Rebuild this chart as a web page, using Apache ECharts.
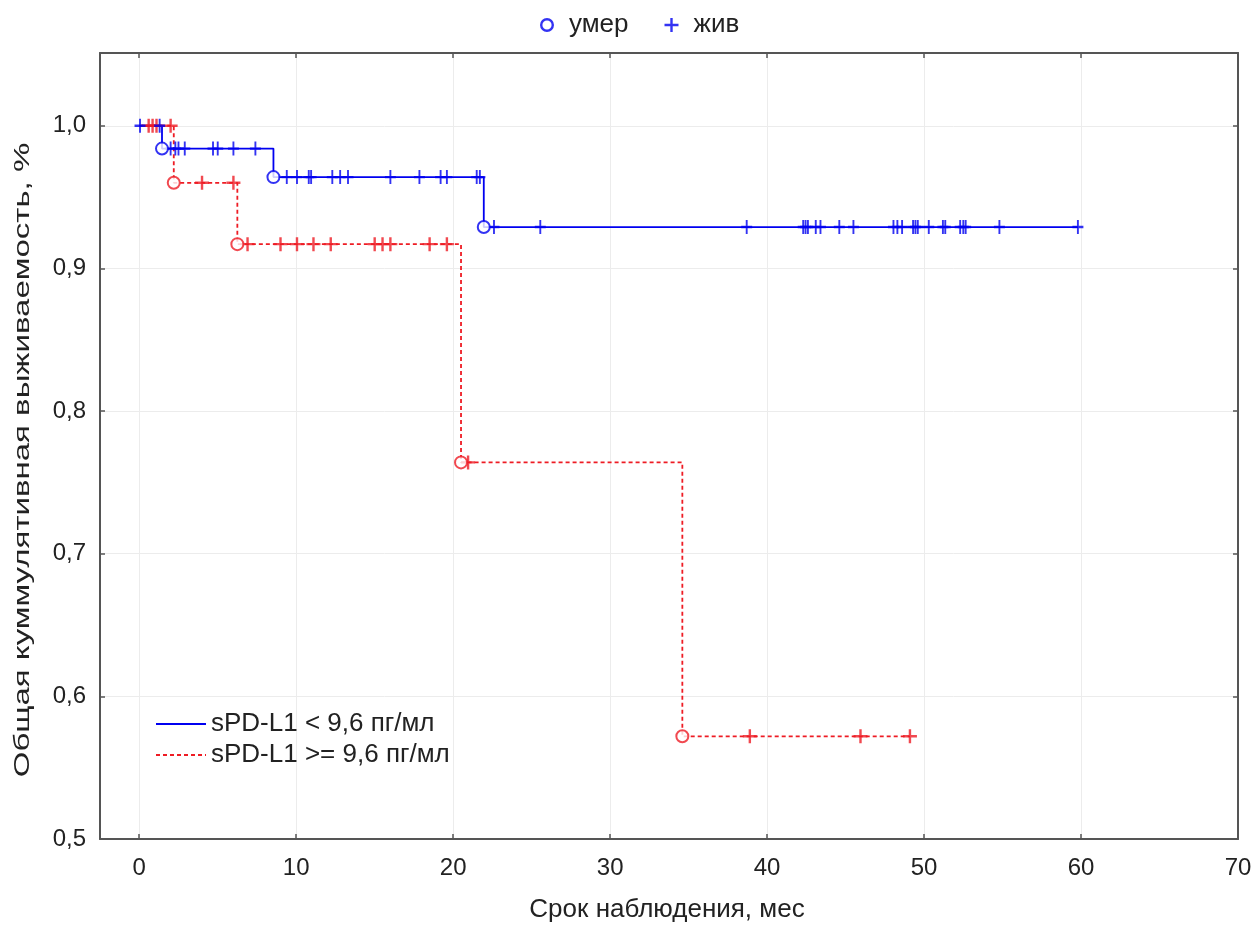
<!DOCTYPE html>
<html>
<head>
<meta charset="utf-8">
<title>Kaplan–Meier: sPD-L1</title>
<script src="https://cdn.jsdelivr.net/npm/echarts@6/dist/echarts.min.js"></script>
<style>
  html, body { margin: 0; padding: 0; background: #fff; }
  #chart { width: 1255px; height: 925px; }
</style>
</head>
<body>
<div id="chart"></div>
<script>
// Kaplan–Meier steps: event times (months) and survival after each event
const lowName = 'sPD-L1 < 9,6 пг/мл';
const highName = 'sPD-L1 >= 9,6 пг/мл';

const lowStepTimes = [0, 1.45, 8.55, 21.95];
const lowStepSurv  = [1.0, 0.984, 0.964, 0.929];
const lowEnd = 59.8;

const highStepTimes = [0, 2.2, 6.25, 20.5, 34.6];
const highStepSurv  = [1.0, 0.960, 0.917, 0.764, 0.572];
const highEnd = 49.1;

// censored observations (alive), months
const lowCensored = [
  0.05, 1.3,
  2.0, 2.3, 2.5, 2.9, 4.7, 5.0, 6.0, 7.4,
  9.4, 10.05, 10.8, 10.95, 12.3, 12.8, 13.3, 16.0, 17.85, 19.2, 19.6, 21.5, 21.7,
  22.6, 25.55, 38.7, 42.3, 42.45, 42.6, 43.1, 43.4, 44.6, 45.5, 48.05, 48.3, 48.6,
  49.3, 49.45, 49.6, 50.3, 51.2, 51.35, 52.3, 52.5, 52.65, 54.8, 59.8
];
const highCensored = [
  0.6, 0.85, 1.1, 2.0,
  4.0, 6.0,
  6.9, 9.0, 10.05, 11.1, 12.2, 15.0, 15.5, 16.0, 18.5, 19.6,
  20.95,
  38.9, 45.95, 49.1
];

const xMin = -2.5, xMax = 70;
const yMin = 0.5, yMax = 1.051;

const BLUE = '#0000f0';
const RED = '#ee1c24';
const FRAME = '#555555';
const TEXT = '#222222';
const FONT = '"Liberation Sans", Arial, sans-serif';

function stepLine(times, surv, end) {
  const pts = times.map((t, i) => [t, surv[i]]);
  pts.push([end, surv[surv.length - 1]]);
  return pts;
}
function levelAt(times, surv, t) {
  let s = surv[0];
  for (let i = 0; i < times.length; i++) if (times[i] <= t) s = surv[i];
  return s;
}
const deaths = (times, surv) => times.slice(1).map((t, i) => [t, surv[i + 1]]);
const censoredPts = (list, times, surv) => list.map(t => [t, levelAt(times, surv, t)]);

const plusPath = 'path://M-1.2,-7H1.2V-1.2H7V1.2H1.2V7H-1.2V1.2H-7V-1.2H-1.2Z';
const ringPath = 'path://M0,-7A7,7 0 1,1 0,7A7,7 0 1,1 0,-7ZM0,-4.6A4.6,4.6 0 1,0 0,4.6A4.6,4.6 0 1,0 0,-4.6Z';

const chart = echarts.init(document.getElementById('chart'), null, { renderer: 'canvas' });

const axisCommon = {
  axisLine: { show: true, onZero: false, lineStyle: { color: FRAME, width: 2 } },
  axisTick: { show: true, inside: true, length: 5, lineStyle: { color: FRAME, width: 1.5 } },
  splitLine: { show: false }
};

chart.setOption({
  animation: false,
  backgroundColor: '#ffffff',
  grid: { left: 100, right: 17, top: 53, bottom: 86, containLabel: false },
  legend: [
    {
      data: [
        { name: 'умер', icon: ringPath, itemStyle: { color: BLUE, borderWidth: 0 } },
        { name: 'жив', icon: plusPath, itemStyle: { color: BLUE, borderWidth: 0 } }
      ],
      top: 7, left: 535,
      itemWidth: 14, itemHeight: 14, itemGap: 36,
      textStyle: { fontFamily: FONT, fontSize: 26, color: TEXT, padding: [0, 0, 0, 10] }
    },
    {
      data: [lowName, highName],
      orient: 'vertical',
      left: 150, top: 706,
      itemWidth: 50, itemHeight: 14, itemGap: 5,
      itemStyle: { opacity: 0 },
      textStyle: { fontFamily: FONT, fontSize: 26, color: TEXT }
    }
  ],
  xAxis: [
    Object.assign({}, axisCommon, {
      type: 'value', position: 'bottom',
      min: xMin, max: xMax, minInterval: 10, maxInterval: 10,
      axisLabel: {
        showMinLabel: false, margin: 17,
        fontFamily: FONT, fontSize: 24, color: TEXT
      },
      splitLine: { show: true, lineStyle: { color: '#ececec', width: 1 } }
    }),
    Object.assign({}, axisCommon, {
      type: 'value', position: 'top',
      min: xMin, max: xMax, minInterval: 10, maxInterval: 10,
      axisLabel: { show: false }
    })
  ],
  yAxis: [
    Object.assign({}, axisCommon, {
      type: 'value', position: 'left',
      min: yMin, max: yMax, interval: 0.1,
      axisLabel: {
        showMaxLabel: false, margin: 14,
        fontFamily: FONT, fontSize: 24, color: TEXT,
        formatter: v => v.toFixed(1).replace('.', ',')
      },
      splitLine: { show: true, lineStyle: { color: '#ececec', width: 1 } }
    }),
    Object.assign({}, axisCommon, {
      type: 'value', position: 'right',
      min: yMin, max: yMax, interval: 0.1,
      axisLabel: { show: false }
    })
  ],
  graphic: [
    {
      type: 'text', x: 23, y: 460, rotation: Math.PI / 2, scaleX: 1.5,
      style: {
        text: 'Общая куммулятивная выживаемость, %',
        font: '22px ' + FONT, fill: TEXT,
        textAlign: 'center', textVerticalAlign: 'middle'
      }
    },
    {
      type: 'text', x: 667, y: 910,
      style: {
        text: 'Срок наблюдения, мес',
        font: '26px ' + FONT, fill: TEXT,
        textAlign: 'center', textVerticalAlign: 'middle'
      }
    }
  ],
  series: [
    {
      name: lowName, type: 'line', step: 'end', symbol: 'none',
      data: stepLine(lowStepTimes, lowStepSurv, lowEnd),
      lineStyle: { color: BLUE, width: 1.8, type: 'solid' },
      itemStyle: { color: BLUE }, z: 3
    },
    {
      name: highName, type: 'line', step: 'end', symbol: 'none',
      data: stepLine(highStepTimes, highStepSurv, highEnd),
      lineStyle: { color: RED, width: 1.8, type: [4, 3] },
      itemStyle: { color: RED }, z: 2
    },
    {
      name: 'жив', type: 'scatter', symbol: plusPath, symbolSize: [11, 14],
      data: censoredPts(lowCensored, lowStepTimes, lowStepSurv),
      itemStyle: { color: BLUE }, z: 5
    },
    {
      name: 'жив', type: 'scatter', symbol: plusPath, symbolSize: [14, 14],
      data: censoredPts(highCensored, highStepTimes, highStepSurv),
      itemStyle: { color: RED }, z: 4
    },
    {
      name: 'умер', type: 'scatter', symbol: 'emptyCircle', symbolSize: 12,
      data: deaths(lowStepTimes, lowStepSurv),
      itemStyle: { color: BLUE, borderColor: BLUE, borderWidth: 2.4 }, z: 6
    },
    {
      name: 'умер', type: 'scatter', symbol: 'emptyCircle', symbolSize: 12,
      data: deaths(highStepTimes, highStepSurv),
      itemStyle: { color: RED, borderColor: RED, borderWidth: 2.4 }, z: 6
    }
  ]
});
</script>
</body>
</html>
